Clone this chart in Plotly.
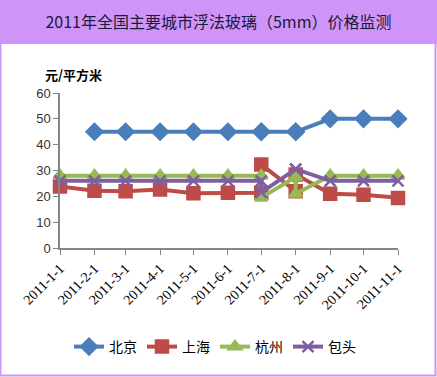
import plotly.graph_objects as go

dates = ['2011-01-01', '2011-02-01', '2011-03-01', '2011-04-01', '2011-05-01', '2011-06-01',
         '2011-07-01', '2011-07-01', '2011-08-01', '2011-08-01', '2011-09-01', '2011-10-01', '2011-11-01']
beijing = [None, 45, 45, 45, 45, 45, 45, 45, 45, 45, 50, 50, 50]
shanghai = [23.8, 22.2, 22, 22.6, 21.2, 21.4, 21.4, 32.3, 22, 28.5, 21, 20.6, 19.4]
hangzhou = [28, 28, 28, 28, 28, 28, 28, 19.5, 27.5, 21, 28, 28, 28]
baotou = [26, 26, 26, 26, 26, 26, 26, 21.5, 30.5, 30.5, 26, 26, 26]

tick_vals = ['2011-01-01', '2011-02-01', '2011-03-01', '2011-04-01', '2011-05-01', '2011-06-01',
             '2011-07-01', '2011-08-01', '2011-09-01', '2011-10-01', '2011-11-01']
tick_text = ['2011-1-1', '2011-2-1', '2011-3-1', '2011-4-1', '2011-5-1', '2011-6-1',
             '2011-7-1', '2011-8-1', '2011-9-1', '2011-10-1', '2011-11-1']

series = [
    ('北京', beijing, '#4A7EBB', 'diamond', 12),
    ('上海', shanghai, '#BE4B48', 'square', 12),
    ('杭州', hangzhou, '#98B954', 'triangle-up', 11),
    ('包头', baotou, '#7D60A0', 'x-thin', 11),
]

fig = go.Figure()
for name, vals, color, sym, size in series:
    fig.add_trace(go.Scatter(
        x=dates, y=vals, name=name, mode='lines+markers',
        line=dict(color=color, width=4),
        marker=dict(symbol=sym, size=size, color=color,
                    line=dict(color=color, width=2.5)),
        cliponaxis=False, connectgaps=False,
    ))

W, H = 437, 377
L, R, T, B = 60, 39, 93, 129
pw, ph = W - L - R, H - T - B

def px(x):
    return (x - L) / pw

def py(y):
    return (H - B - y) / ph

purple = '#CF94F7'
fig.add_shape(type='rect', xref='paper', yref='paper',
              x0=px(0), x1=px(W), y0=py(44), y1=py(0),
              fillcolor=purple, line=dict(width=0), layer='below')
fig.add_shape(type='rect', xref='paper', yref='paper',
              x0=px(0.5), x1=px(W - 1.5), y0=py(H - 1.5), y1=py(0.5),
              fillcolor='rgba(0,0,0,0)', line=dict(color=purple, width=2))

fig.add_annotation(text='<b>元/平方米</b>', xref='paper', yref='paper',
                   x=px(43), y=py(74), xanchor='left', yanchor='middle',
                   showarrow=False, font=dict(size=13, color='#000000',
                                              family='Noto Sans CJK SC'))

fig.update_layout(
    width=W, height=H,
    margin=dict(l=L, r=R, t=T, b=B),
    paper_bgcolor='white', plot_bgcolor='white',
    title=dict(text='2011年全国主要城市浮法玻璃（5mm）价格监测',
               x=0.5, xanchor='center', y=1 - 22 / H, yanchor='middle',
               font=dict(size=16, color='#1A1A3A', family='Noto Sans CJK SC')),
    xaxis=dict(type='date', range=['2011-01-01', '2011-11-01'],
               tickvals=tick_vals, ticktext=tick_text, tickangle=-45,
               showgrid=False, zeroline=False, showline=True,
               linecolor='#868686', linewidth=1.5,
               ticks='outside', ticklen=5, tickcolor='#868686',
               tickfont=dict(size=14, color='#000000', family='Liberation Serif')),
    yaxis=dict(range=[0, 60], tickvals=[0, 10, 20, 30, 40, 50, 60],
               showgrid=False, zeroline=False, showline=True,
               linecolor='#868686', linewidth=1.5,
               ticks='outside', ticklen=5, tickcolor='#868686',
               tickfont=dict(size=13, color='#333333', family='Liberation Sans')),
    legend=dict(orientation='h', x=px(215), xanchor='center',
                y=py(347), yanchor='middle',
                font=dict(size=14, color='#000000', family='Noto Sans CJK SC'),
                itemwidth=30, bgcolor='rgba(0,0,0,0)'),
    showlegend=True,
)

fig.write_html('out.html', config={'displayModeBar': False},
               post_script="document.body.style.margin='0';")
